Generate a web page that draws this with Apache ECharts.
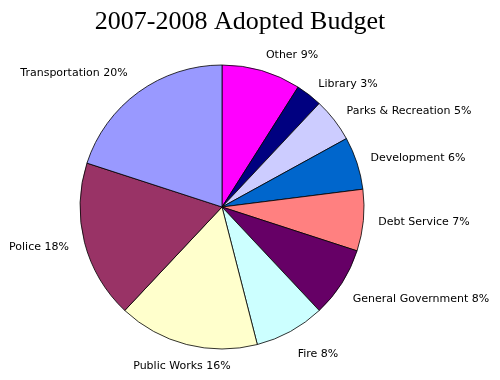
<!DOCTYPE html>
<html><head><meta charset="utf-8">
<script src="https://cdn.jsdelivr.net/npm/echarts@6/dist/echarts.min.js"></script>
<style>html,body{margin:0;padding:0;background:#fff}#c{width:500px;height:380px}</style>
</head><body><div id="c"></div>
<script>
var categories = ['Other','Library','Parks & Recreation','Development','Debt Service','General Government','Fire','Public Works','Police','Transportation'];
var values = [9,3,5,6,7,8,8,16,18,20];
var colors = ['#FF00FF','#000080','#CCCCFF','#0066CC','#FF8080','#660066','#CCFFFF','#FFFFCC','#993366','#9999FF'];
var labelCenters = [[292,55],[348,84],[409,111],[418,158],[424,222],[421,299],[318,354],[182,366],[39,247],[74,73]];

var chart = echarts.init(document.getElementById('c'));
chart.setOption({
  animation:false,
  title:{text:'2007-2008 Adopted Budget',left:235,top:4,textAlign:'center',
    textStyle:{fontFamily:'Liberation Serif',fontWeight:'normal',fontSize:26,color:'#000'}},
  series:[{
    type:'pie',
    center:[222,207],
    radius:[0,142],
    startAngle:90,
    clockwise:true,
    data:categories.map(function(n,i){return {name:n,value:values[i],itemStyle:{color:colors[i]}};}),
    itemStyle:{borderColor:'#000',borderWidth:0.8},
    label:{show:true,position:'outside',overflow:'none',edgeDistance:0,bleedMargin:0,
      formatter:function(p){return p.name+' '+p.value+'%';},
      fontFamily:'DejaVu Sans',fontSize:11,color:'#000'},
    labelLine:{show:false},
    labelLayout:function(p){var c=labelCenters[p.dataIndex];return {x:c[0],y:c[1],align:'center',verticalAlign:'middle'};}
  }]
});
</script></body></html>
